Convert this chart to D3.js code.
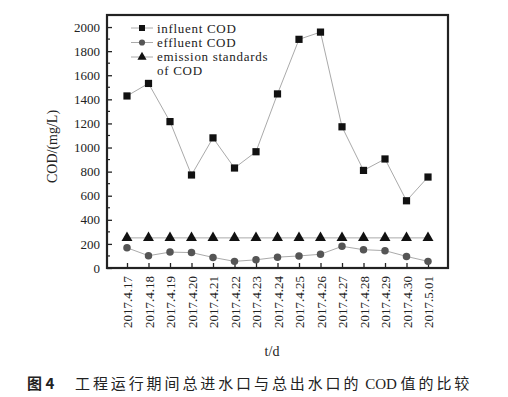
<!DOCTYPE html>
<html>
<head>
<meta charset="utf-8">
<script src="https://cdn.jsdelivr.net/npm/d3@7"></script>
<style>
  body { margin: 0; background: #fff; }
  svg { display: block; }
</style>
</head>
<body>
<div id="chart"></div>
<script>
// data
const dates = ["2017.4.17", "2017.4.18", "2017.4.19", "2017.4.20", "2017.4.21", "2017.4.22",
    "2017.4.23", "2017.4.24", "2017.4.25", "2017.4.26", "2017.4.27", "2017.4.28",
    "2017.4.29", "2017.4.30", "2017.5.01"];
const influent = [1428, 1532, 1215, 772, 1080, 830, 965, 1445, 1898, 1958, 1172, 810, 905, 558, 755];
const effluent = [168, 102, 132, 128, 88, 55, 68, 90, 100, 114, 180, 152, 144, 96, 55];
const standard = dates.map(() => 250);
const yTicks = [0, 200, 400, 600, 800, 1000, 1200, 1400, 1600, 1800, 2000];
const legendLabels = ["influent COD", "effluent COD", "emission standards", "of COD"];

const width = 508, height = 397;
const plotLeft = 107, plotRight = 448, plotTop = 15, plotBottom = 268;
const serif = "'Liberation Serif', 'DejaVu Serif', serif";

const svg = d3.select("#chart").append("svg")
    .attr("width", width)
    .attr("height", height)
    .attr("viewBox", [0, 0, width, height]);

const x = d3.scalePoint()
    .domain(dates)
    .range([plotLeft, plotRight])
    .padding(0.93);

const y = d3.scaleLinear()
    .domain([0, 2100])
    .range([plotBottom, plotTop]);

// axes, ticks pointing inward
const yAxis = svg.append("g")
    .attr("transform", `translate(${plotLeft},0)`)
    .call(d3.axisLeft(y).tickValues(yTicks).tickFormat(d3.format("d")).tickSize(-5).tickPadding(7));
yAxis.select(".domain").remove();
yAxis.selectAll("text")
    .attr("font-family", serif).attr("font-size", 13).attr("fill", "#222");
yAxis.selectAll("line").attr("stroke", "#222").attr("stroke-width", 1.3);

// minor y ticks
svg.append("g").selectAll("line")
    .data(d3.range(100, 2100, 200))
    .join("line")
    .attr("x1", plotLeft).attr("x2", plotLeft + 3)
    .attr("y1", d => y(d)).attr("y2", d => y(d))
    .attr("stroke", "#222").attr("stroke-width", 1.2);

const xAxis = svg.append("g")
    .attr("transform", `translate(0,${plotBottom})`)
    .call(d3.axisBottom(x).tickSize(-5).tickPadding(0));
xAxis.select(".domain").remove();
xAxis.selectAll("line").attr("stroke", "#222").attr("stroke-width", 1.3);
xAxis.selectAll("text")
    .attr("font-family", serif).attr("font-size", 13).attr("fill", "#222")
    .attr("transform", "rotate(-90)")
    .attr("text-anchor", "end")
    .attr("x", -8).attr("y", 0).attr("dy", "0.35em");

// frame
svg.append("rect")
    .attr("x", plotLeft).attr("y", plotTop)
    .attr("width", plotRight - plotLeft).attr("height", plotBottom - plotTop)
    .attr("fill", "none").attr("stroke", "#222").attr("stroke-width", 2.2);

// series
const line = d3.line().x((d, i) => x(dates[i])).y(d => y(d));

function drawSeries(values, shape, fill) {
    svg.append("path")
        .datum(values)
        .attr("d", line)
        .attr("fill", "none")
        .attr("stroke", "#aaa")
        .attr("stroke-width", 1);
    svg.append("g").selectAll("path")
        .data(values)
        .join("path")
        .attr("transform", (d, i) => `translate(${x(dates[i])},${y(d)})`)
        .attr("d", d3.symbol().type(shape).size(shape === d3.symbolCircle ? 44 : 52))
        .attr("fill", fill);
}

drawSeries(standard, d3.symbolTriangle, "#111");
drawSeries(effluent, d3.symbolCircle, "#555");
drawSeries(influent, d3.symbolSquare, "#111");

// legend
const legend = svg.append("g");
const legendShapes = [d3.symbolSquare, d3.symbolCircle, d3.symbolTriangle];
const legendFills = ["#111", "#555", "#111"];
legendShapes.forEach((s, i) => {
    const ly = 28 + i * 14.5;
    legend.append("line")
        .attr("x1", 131).attr("x2", 153).attr("y1", ly).attr("y2", ly)
        .attr("stroke", "#aaa").attr("stroke-width", 1);
    legend.append("path")
        .attr("transform", `translate(142,${ly})`)
        .attr("d", d3.symbol().type(s).size(s === d3.symbolCircle ? 30 : 36))
        .attr("fill", legendFills[i]);
});
legend.selectAll("text")
    .data(legendLabels)
    .join("text")
    .attr("x", 157)
    .attr("y", (d, i) => 28 + i * 14.2)
    .attr("dy", "0.35em")
    .attr("font-family", serif)
    .attr("font-size", 13)
    .attr("letter-spacing", 0.7)
    .attr("fill", "#222")
    .text(d => d);

// axis titles
svg.append("text")
    .attr("transform", `translate(57,${(plotTop + plotBottom) / 2 + 5}) rotate(-90)`)
    .attr("text-anchor", "middle")
    .attr("font-family", serif).attr("font-size", 14).attr("fill", "#222")
    .text("COD/(mg/L)");

svg.append("text")
    .attr("x", 272).attr("y", 356)
    .attr("text-anchor", "middle")
    .attr("font-family", serif).attr("font-size", 14).attr("fill", "#222")
    .text("t/d");

// caption
const caption = svg.append("text")
    .attr("y", 389)
    .attr("font-family", "'Noto Sans CJK SC', sans-serif")
    .attr("font-size", 15)
    .attr("fill", "#222");
caption.append("tspan").attr("x", 27).attr("font-weight", "bold").text("图 4");
caption.append("tspan").attr("x", 75).attr("letter-spacing", 2.9).text("工程运行期间总进水口与总出水口的");
caption.append("tspan").attr("font-family", serif).attr("font-size", 15).text(" COD ");
caption.append("tspan").attr("letter-spacing", 2.9).text("值的比较");
</script>
</body>
</html>
